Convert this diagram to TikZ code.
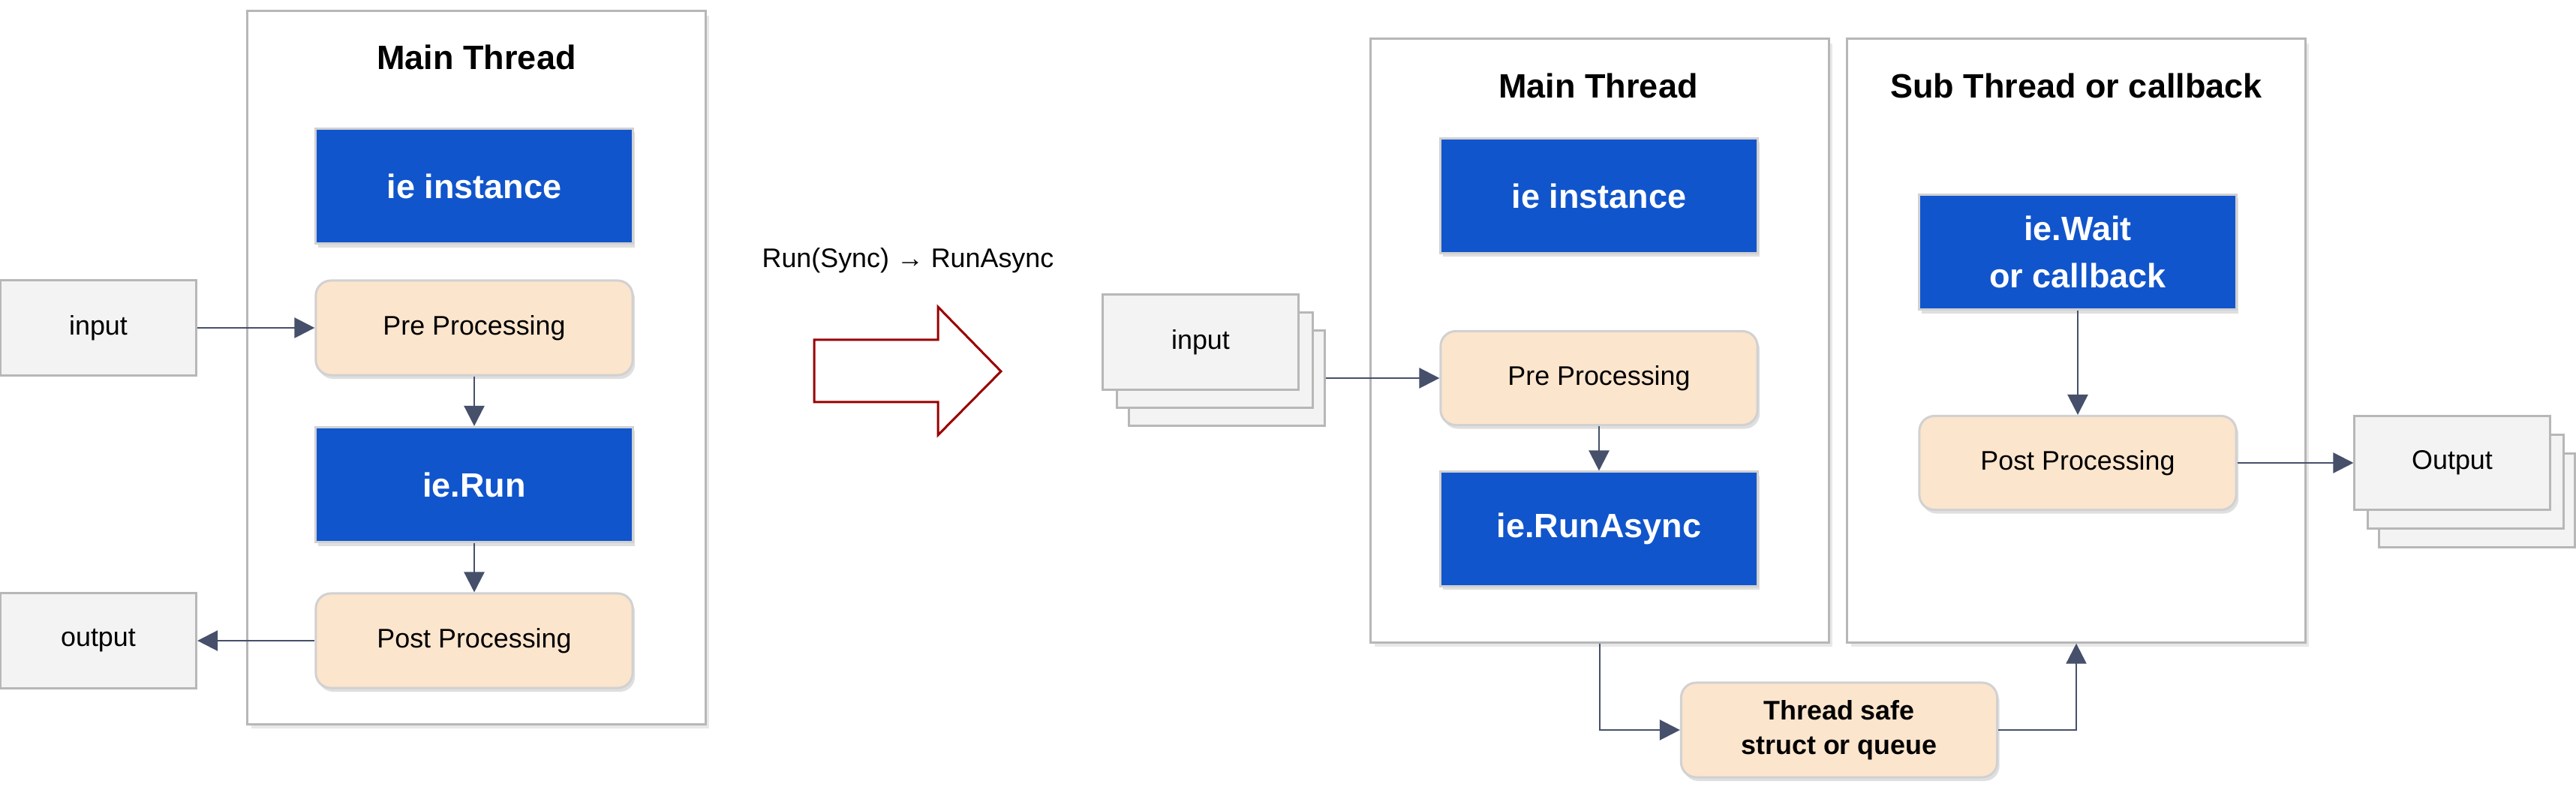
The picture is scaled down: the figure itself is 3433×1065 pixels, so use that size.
\documentclass[tikz,border=0pt]{standalone}
\usepackage{fontspec}
\setmainfont{Liberation Sans}
\usetikzlibrary{arrows.meta,shadows}
\definecolor{ieblue}{HTML}{1155CC}
\definecolor{peach}{HTML}{FCE5CD}
\definecolor{boxgrey}{HTML}{F3F3F3}
\definecolor{edgegrey}{HTML}{B7B7B7}
\definecolor{linkcol}{HTML}{46506A}
\definecolor{darkred}{HTML}{990000}
\begin{document}
\begin{tikzpicture}[x=0.01cm, y=-0.01cm,
    threadbox/.style={draw=edgegrey, line width=0.03cm, fill=white, minimum width=6.1cm, inner sep=0pt,
        drop shadow={opacity=0.18, shadow xshift=0.05cm, shadow yshift=-0.06cm}},
    title/.style={font=\fontsize{12.8}{15}\selectfont\bfseries},
    iebox/.style={draw=black!18, line width=0.03cm, fill=ieblue, text=white, align=center,
        minimum width=4.22cm, minimum height=1.53cm, font=\fontsize{12.8}{18}\selectfont\bfseries,
        drop shadow={opacity=0.25, shadow xshift=0.03cm, shadow yshift=-0.05cm}},
    procbox/.style={draw=black!18, line width=0.03cm, fill=peach, rounded corners=0.2cm, align=center,
        minimum width=4.22cm, minimum height=1.26cm, font=\fontsize{10.2}{13}\selectfont,
        drop shadow={opacity=0.25, shadow xshift=0.03cm, shadow yshift=-0.05cm}},
    iobox/.style={draw=edgegrey, line width=0.03cm, fill=boxgrey, minimum width=2.61cm,
        minimum height=1.26cm, font=\fontsize{10.2}{13}\selectfont},
    link/.style={draw=linkcol, line width=0.025cm, -{Triangle[length=0.27cm,width=0.27cm]}}]
\useasboundingbox (0,0) rectangle (3433,1065);

% Sync
\node[threadbox, minimum height=9.5cm] (frame1) at (635,490) {};
\node[title] (title1) at (635,76) {Main Thread};
\node[iebox] (inst1) at (632,248) {ie instance};
\node[procbox] (pre1) at (632,437) {Pre Processing};
\node[iebox] (run1) at (632,646) {ie.Run};
\node[procbox] (post1) at (632,854) {Post Processing};
\node[iobox] (in1) at (131,437) {input};
\node[iobox] (out1) at (131,854) {output};
\draw[link] (in1) -- (pre1);
\draw[link] (pre1) -- (run1);
\draw[link] (run1) -- (post1);
\draw[link] (post1) -- (out1);

% Run -> RunAsync
\node[font=\fontsize{10.2}{13}\selectfont] (change) at (1210,347) {Run(Sync) → RunAsync};
\draw[darkred, line width=0.03cm, fill=white] (1085,453) -- (1250,453) -- (1250,409) -- (1334,495)
    -- (1250,580) -- (1250,536) -- (1085,536) -- cycle;

% Async, main thread
\node[threadbox, minimum height=8.04cm] (frame2) at (2132,454) {};
\node[title] (title2) at (2130,114) {Main Thread};
\node[iebox, minimum height=1.52cm] (inst2) at (2131,261) {ie instance};
\node[procbox, minimum height=1.25cm] (pre2) at (2131,504) {Pre Processing};
\node[iebox, minimum height=1.52cm] (runa2) at (2131,705) {ie.RunAsync};
\node[iobox] (in2c) at (1635,504) {};
\node[iobox] (in2b) at (1619,480) {};
\node[iobox] (in2) at (1600,456) {input};
\draw[link] (in2c) -- (pre2);
\draw[link] (pre2) -- (runa2);

% Async, sub thread
\node[threadbox, minimum height=8.04cm] (frame3) at (2767,454) {};
\node[title] (title3) at (2767,114) {Sub Thread or callback};
\node[iebox] (wait3) at (2769,336) {ie.Wait\\or callback};
\node[procbox, minimum height=1.25cm] (post3) at (2769,617) {Post Processing};
\node[iobox, minimum width=2.6cm, minimum height=1.25cm] (out3c) at (3301,667) {};
\node[iobox, minimum width=2.6cm, minimum height=1.25cm] (out3b) at (3286,642) {};
\node[iobox, minimum width=2.6cm, minimum height=1.25cm] (out3) at (3268,617) {Output};
\draw[link] (wait3) -- (post3);
\draw[link] (post3) -- (out3);

% Queue between threads
\node[procbox, minimum width=4.21cm, font=\fontsize{10.2}{13.2}\selectfont\bfseries] (safe) at (2451,973)
    {Thread safe\\struct or queue};
\draw[link] (frame2.south) |- (safe.west);
\draw[link] (safe.east) -| (frame3.south);
\end{tikzpicture}
\end{document}
